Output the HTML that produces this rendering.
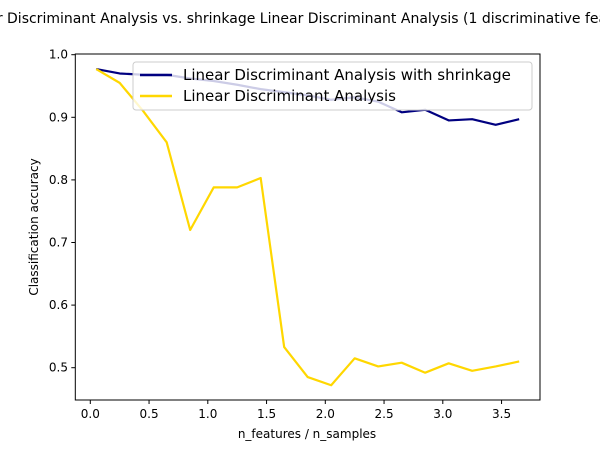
<!DOCTYPE html>
<html><head><meta charset="utf-8"><style>
body{margin:0;background:#fff;}
svg text{font-family:"DejaVu Sans","Liberation Sans",sans-serif;fill:#000;}
</style></head><body>
<svg id="chart" width="600" height="450" viewBox="0 0 600 450" xmlns="http://www.w3.org/2000/svg">
<text x="300" y="23" font-size="14" text-anchor="middle">Linear Discriminant Analysis vs. shrinkage Linear Discriminant Analysis (1 discriminative feature)</text>
<g id="plot"></g>
<rect x="75.3" y="54" width="464.7" height="346" fill="none" stroke="#000" stroke-width="1"/>
<text x="307" y="438" font-size="12" text-anchor="middle">n_features / n_samples</text>
<text transform="translate(38,227) rotate(-90)" font-size="12" text-anchor="middle">Classification accuracy</text>
<g>
<rect x="133" y="62" width="399" height="48" rx="3" fill="#fff" fill-opacity="0.8" stroke="#ccc"/>
<line x1="140" y1="75" x2="172" y2="75" stroke="navy" stroke-width="2.5"/>
<text x="183" y="80" font-size="15">Linear Discriminant Analysis with shrinkage</text>
<line x1="140" y1="96" x2="172" y2="96" stroke="gold" stroke-width="2.5"/>
<text x="183" y="101" font-size="15">Linear Discriminant Analysis</text>
</g>
</svg>
<script>
const xValues=[0.05,0.25,0.45,0.65,0.85,1.05,1.25,1.45,1.65,1.85,2.05,2.25,2.45,2.65,2.85,3.05,3.25,3.45,3.65];
const shrinkAcc=[0.977,0.970,0.968,0.968,0.962,0.958,0.952,0.945,0.940,0.935,0.928,0.932,0.925,0.908,0.912,0.895,0.897,0.888,0.897];
const ldaAcc=[0.977,0.955,0.91,0.86,0.72,0.788,0.788,0.803,0.533,0.485,0.472,0.515,0.502,0.508,0.492,0.507,0.495,0.502,0.51];
const xTicks=[0,0.5,1,1.5,2,2.5,3,3.5];
const yTicks=[0.5,0.6,0.7,0.8,0.9,1.0];
const NS="http://www.w3.org/2000/svg";
function sx(v){return 90.3+v*117.5;}
function sy(v){return 367.7-(v-0.5)*626;}
const g=document.getElementById('plot');
function mk(t,a){const e=document.createElementNS(NS,t);for(const k in a)e.setAttribute(k,a[k]);return e;}
xTicks.forEach(t=>{
  const l=mk('line',{x1:sx(t),x2:sx(t),y1:400,y2:404,stroke:'#000'});
  
  
  g.appendChild(l);
  const tx=mk('text',{x:sx(t),y:418,'font-size':12,'text-anchor':'middle'});
  tx.textContent=t.toFixed(1);
  
  
  g.appendChild(tx);
});
yTicks.forEach(t=>{
  const l=mk('line',{x1:71.3,x2:75.3,y1:sy(t),y2:sy(t),stroke:'#000'});
  
  
  g.appendChild(l);
  const tx=mk('text',{x:68,y:sy(t)+4,'font-size':12,'text-anchor':'end'});
  tx.textContent=t.toFixed(1);
  
  
  g.appendChild(tx);
});
function line(vals,color,name){
  const p=mk('polyline',{points:vals.map((v,i)=>sx(xValues[i])+','+sy(v)).join(' '),fill:'none',stroke:color,'stroke-width':2.2,'stroke-linejoin':'round'});
  
  
  g.appendChild(p);
}
line(shrinkAcc,'navy','shrinkage-lda-line');
line(ldaAcc,'gold','lda-line');
</script>
</body></html>
